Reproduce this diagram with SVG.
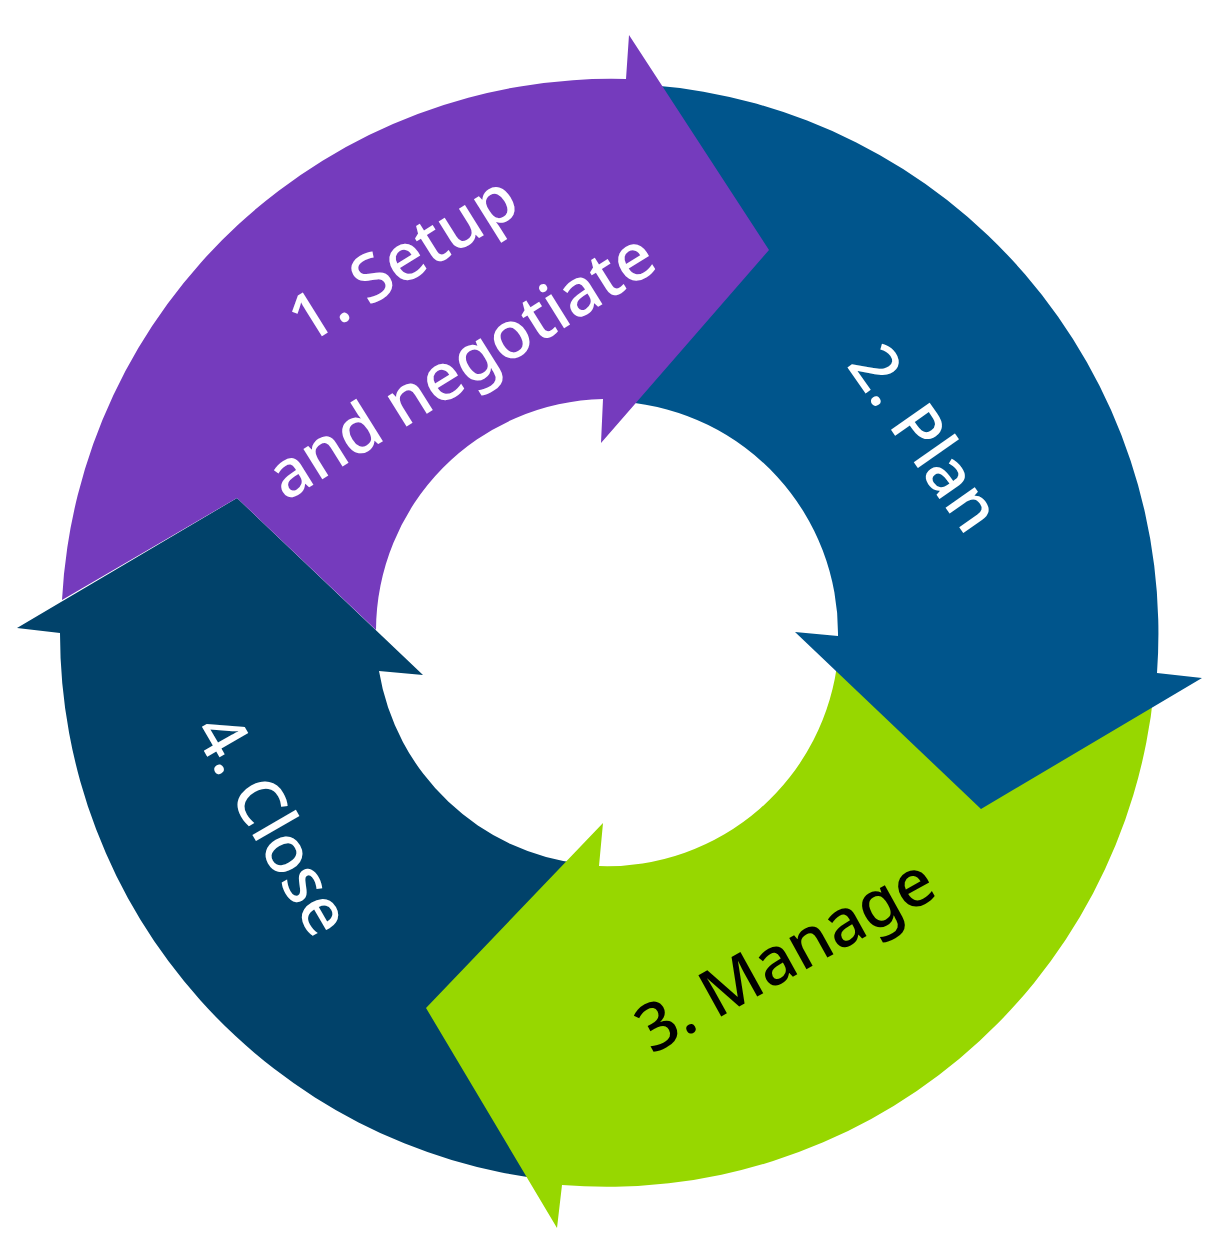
<svg xmlns="http://www.w3.org/2000/svg" width="1218" height="1249" viewBox="0 0 1218 1249">
<style>
.lbl{font-family:"Noto Sans","Open Sans","DejaVu Sans",sans-serif;font-size:66px;font-weight:500;text-anchor:middle}
.w{fill:#ffffff}
.k{fill:#000000}
</style>
<rect width="1218" height="1249" fill="#ffffff"/>
<g id="connectors"></g>
<g id="step4">
<path fill="#01426A" d="M 550,1180 A 550 550 0 0 1 60,633 L 17,628 L 237,498 L 423,675 L 379,671 A 232 232 0 0 0 583,864 Z"/>
<text class="lbl w" transform="translate(253,836) rotate(60)">4. Close</text>
</g>
<g id="step3">
<path fill="#97D700" d="M 1154,690 A 550 550 0 0 1 562,1185 L 557,1228 L 426,1008 L 603,823 L 599,866 A 232 232 0 0 0 838,657 Z"/>
<text class="lbl k" transform="translate(796,975) rotate(-29)">3. Manage</text>
</g>
<g id="step2">
<path fill="#00558C" d="M 650,85 A 550 550 0 0 1 1157,673 L 1202,678 L 981,809 L 795,632 L 838,636 A 232 232 0 0 0 624,402 Z"/>
<text class="lbl w" transform="translate(906,451) rotate(55)">2. Plan</text>
</g>
<g id="step1">
<path fill="#753BBD" d="M 62,600 A 550 550 0 0 1 626,79 L 629,35 L 769,250 L 601,443 L 603,399 A 232 232 0 0 0 376,630 L 237,498 Z"/>
<text class="lbl w" transform="translate(415,278) rotate(-32)">1. Setup</text>
<text class="lbl w" transform="translate(473,385) rotate(-32)">and negotiate</text>
</g>
</svg>
